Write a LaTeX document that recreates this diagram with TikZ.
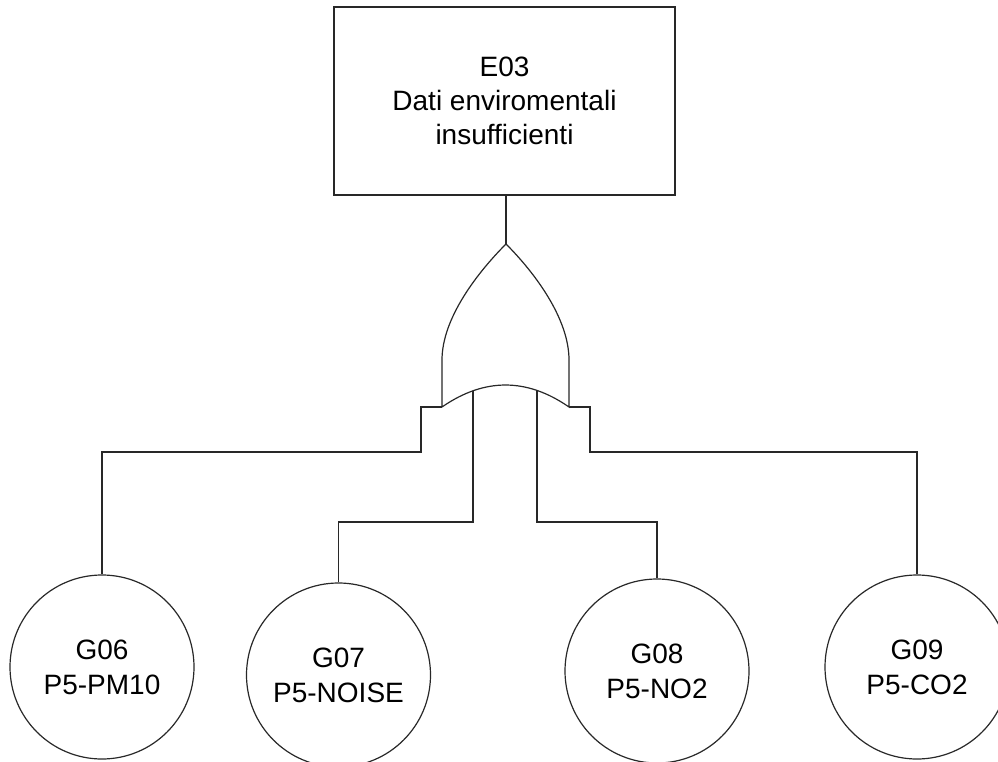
\documentclass[tikz,border=0pt]{standalone}
\usepackage{fontspec}
\setmainfont{Liberation Sans}
\begin{document}
\begin{tikzpicture}[x=1pt,y=-1pt,
  line width=1.2pt, draw={rgb,255:red,40;green,40;blue,40},
  eventbox/.style={draw, rectangle, minimum width=341pt, minimum height=188pt, inner sep=0pt, align=center, font=\fontsize{28}{34}\selectfont},
  basic/.style={draw, circle, minimum size=184pt, inner sep=0pt, align=center, font=\fontsize{28}{35}\selectfont}]
\useasboundingbox (0,0) rectangle (998,762);
\node[eventbox] (e03) at (504.5,101) {E03\\Dati enviromentali\\insufficienti};
\node[basic] (g06) at (102,667) {G06\\P5-PM10};
\node[basic] (g07) at (338.5,675) {G07\\P5-NOISE};
\node[basic] (g08) at (657,671) {G08\\P5-NO2};
\node[basic] (g09) at (917,667) {G09\\P5-CO2};
% OR gate
\coordinate (apex) at (506,244);
\coordinate (bl) at (442,407);
\coordinate (br) at (569,407);
\coordinate (in2) at (473,390.8);
\coordinate (in3) at (537,390.4);
\draw (bl) -- (442,360) .. controls (442,318) and (478,272) .. (apex)
  .. controls (534,272) and (569,318) .. (569,360) -- (br)
  .. controls (526.7,377.7) and (484.3,377.7) .. (bl);
\draw (apex) -- (apex |- e03.south);
% connectors
\draw (bl) -- (421,407) -- (421,452) -| (g06.north);
\draw (in2) -- (473,522) -| (g07.north);
\draw (in3) -- (537,522) -| (g08.north);
\draw (br) -- (590,407) -- (590,452) -| (g09.north);
\end{tikzpicture}
\end{document}
